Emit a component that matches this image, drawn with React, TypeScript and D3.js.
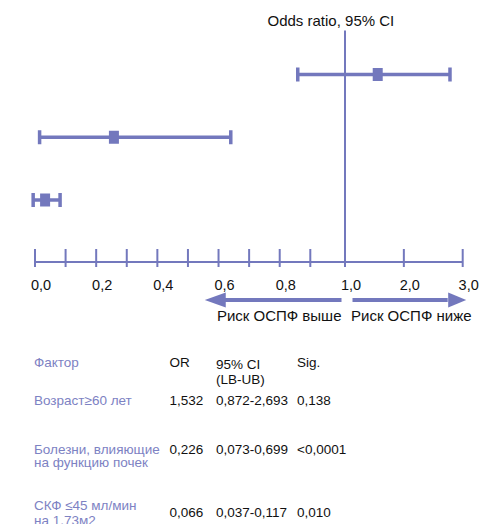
import React from "react";
import * as d3 from "d3";

// ---- data ----
const factors = ["Возраст≥60 лет", "Болезни, влияющие на функцию почек", "СКФ ≤45 мл/мин на 1,73м2"];
const factorLines = [["Возраст≥60 лет"], ["Болезни, влияющие", "на функцию почек"], ["СКФ ≤45 мл/мин", "на 1,73м2"]];
const orText = ["1,532", "0,226", "0,066"];
const ciText = ["0,872-2,693", "0,073-0,699", "0,037-0,117"];
const sigText = ["0,138", "<0,0001", "0,010"];
// positions of the marks as drawn in the picture (read against the axis)
const plotLow = [0.859, 0.015, -0.006];
const plotMid = [1.556, 0.258, 0.033];
const plotHigh = [2.784, 0.64, 0.082];
const tickValues = [0, 0.1, 0.2, 0.3, 0.4, 0.5, 0.6, 0.7, 0.8, 0.9, 1, 2, 3];
const tickLabelValues = [0, 0.2, 0.4, 0.6, 0.8, 1, 2, 3];
const tickLabels = ["0,0", "0,2", "0,4", "0,6", "0,8", "1,0", "2,0", "3,0"];
const headers = ["Фактор", "OR", "95% CI", "(LB-UB)", "Sig."];

const C = "#7378BD";
const CT = "#7D82C3";
const FONT = "'Liberation Sans', Arial, sans-serif";

export default function App() {
  const W = 483, H = 524;
  const x = d3.scaleLinear().domain([0, 0.9, 1, 3]).range([35, 310.3, 345, 462.7]);
  const y = d3.scaleLinear().domain([0, factors.length - 1]).range([74.5, 200]);
  const axisY = 262;
  const arrowY = 300;
  const x1 = x(1);

  const colX = [34, 169.5, 216, 297];
  const rowBase = [405, 454, 516.5];
  const labelBase = [[405], [454, 467], [510, 524.5]];

  return (
    <>
      <style>{`body{margin:0}`}</style>
      <svg width={W} height={H} style={{ display: "block", fontFamily: FONT }}>
        <rect width={W} height={H} fill="#fff" />
        {/* title */}
        <text x={267.5} y={26} fontSize={15} fill="#111">Odds ratio, 95% CI</text>
        {/* reference line */}
        <line x1={x1} x2={x1} y1={30.5} y2={axisY} stroke={C} strokeWidth={2} />
        {/* axis */}
        <line x1={x(0)} x2={x(3)} y1={axisY} y2={axisY} stroke={C} strokeWidth={2} />
        {tickValues.map((v, i) => (
          <line key={i} x1={x(v)} x2={x(v)} y1={axisY - 13} y2={axisY + 5} stroke={C} strokeWidth={2} />
        ))}
        {tickLabelValues.map((v, i) => (
          <text key={i} x={x(v) + 6} y={290} fontSize={14.5} textAnchor="middle" fill="#111">{tickLabels[i]}</text>
        ))}
        {/* forest marks */}
        {factors.map((f, i) => {
          const yy = y(i);
          return (
            <g key={f}>
              <line x1={x(plotLow[i])} x2={x(plotHigh[i])} y1={yy} y2={yy} stroke={C} strokeWidth={3.5} />
              <rect x={x(plotLow[i]) - 1.75} y={yy - 7} width={3.5} height={14} fill={C} />
              <rect x={x(plotHigh[i]) - 1.75} y={yy - 7} width={3.5} height={14} fill={C} />
              <rect x={x(plotMid[i]) - 5} y={yy - 6.5} width={10} height={13} fill={C} />
            </g>
          );
        })}
        {/* arrows */}
        <line x1={x1 - 3.5} x2={x(0.555) + 18} y1={arrowY} y2={arrowY} stroke={C} strokeWidth={4} />
        <path d={`M${x(0.555)},${arrowY} L${x(0.555) + 21},${arrowY - 7.5} L${x(0.555) + 21},${arrowY + 7.5} Z`} fill={C} />
        <line x1={x1 + 7.5} x2={x(3) - 15} y1={arrowY} y2={arrowY} stroke={C} strokeWidth={4} />
        <path d={`M${x(3) + 3.5},${arrowY} L${x(3) - 14.5},${arrowY - 7.5} L${x(3) - 14.5},${arrowY + 7.5} Z`} fill={C} />
        <text x={x1 - 3.5} y={321} fontSize={15} textAnchor="end" fill="#111">Риск ОСПФ выше</text>
        <text x={x1 + 6} y={321} fontSize={15} fill="#111">Риск ОСПФ ниже</text>
        {/* table header */}
        <g fontSize={13.5}>
          <text x={colX[0]} y={366.5} fill={CT}>{headers[0]}</text>
          <text x={colX[1]} y={366.5} fill="#111">{headers[1]}</text>
          <text x={colX[2]} y={369} fill="#111">{headers[2]}</text>
          <text x={colX[2]} y={384} fill="#111">{headers[3]}</text>
          <text x={colX[3]} y={366.5} fill="#111">{headers[4]}</text>
          {factors.map((f, i) => (
            <g key={f}>
              {factorLines[i].map((ln, j) => (
                <text key={j} x={colX[0]} y={labelBase[i][j]} fill={CT}>{ln}</text>
              ))}
              <text x={colX[1]} y={rowBase[i]} fill="#111">{orText[i]}</text>
              <text x={colX[2]} y={rowBase[i]} fill="#111">{ciText[i]}</text>
              <text x={colX[3]} y={rowBase[i]} fill="#111">{sigText[i]}</text>
            </g>
          ))}
        </g>
      </svg>
    </>
  );
}
